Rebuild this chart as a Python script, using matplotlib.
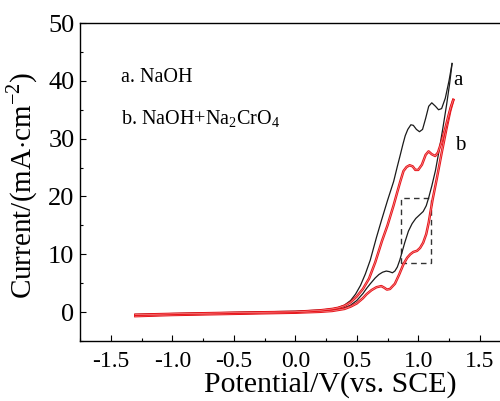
import matplotlib
matplotlib.use("Agg")
import matplotlib.pyplot as plt
from matplotlib.patches import Rectangle
from matplotlib.ticker import MultipleLocator

plt.rcParams['font.family'] = ['Liberation Serif', 'DejaVu Serif']
plt.rcParams['mathtext.fontset'] = 'custom'
plt.rcParams['mathtext.rm'] = 'Liberation Serif'
plt.rcParams['axes.unicode_minus'] = False

# Curve a (NaOH): lower branch, E ascending
a_lo_E = [-1.30, -1.0, -0.5, 0.0, 0.2, 0.3, 0.35, 0.40, 0.45, 0.50, 0.55, 0.58, 0.61,
          0.65, 0.68, 0.71, 0.74, 0.765, 0.79, 0.81, 0.83, 0.85, 0.87, 0.89, 0.92,
          0.95, 0.98, 1.01, 1.04, 1.065, 1.085, 1.11, 1.14, 1.17, 1.20, 1.23, 1.255, 1.275]
a_lo_I = [-0.7, -0.5, -0.3, -0.1, 0.1, 0.3, 0.5, 0.75, 1.2, 2.0, 3.2, 4.1, 4.9,
          5.9, 6.5, 6.9, 7.1, 7.0, 6.8, 7.1, 7.8, 9.0, 10.5, 12.0, 14.0,
          15.3, 16.2, 16.8, 17.4, 18.4, 19.8, 21.8, 24.5, 28.0, 31.8, 35.8, 39.5, 43.0]
# Curve a: upper branch, E descending
a_up_E = [1.275, 1.25, 1.22, 1.19, 1.165, 1.14, 1.11, 1.085, 1.06, 1.035, 1.01, 0.985,
          0.96, 0.94, 0.915, 0.894, 0.875, 0.854, 0.83, 0.80, 0.75, 0.70, 0.66, 0.61,
          0.57, 0.53, 0.49, 0.45, 0.40, 0.35, 0.30, 0.20, 0.0, -0.5, -1.0, -1.30]
a_up_I = [43.0, 40.0, 37.0, 35.2, 35.0, 35.6, 36.2, 35.6, 33.5, 31.6, 31.2, 31.6,
          32.3, 32.4, 31.6, 30.5, 29.0, 27.2, 25.2, 22.6, 19.3, 15.8, 12.9, 9.0,
          6.6, 4.6, 3.1, 2.0, 1.2, 0.8, 0.55, 0.35, 0.15, -0.05, -0.25, -0.4]

# Curve b (NaOH+Na2CrO4)
b_lo_E = [-1.30, -1.0, -0.5, 0.0, 0.2, 0.3, 0.40, 0.45, 0.50, 0.55, 0.58, 0.62, 0.66,
          0.70, 0.725, 0.745, 0.77, 0.81, 0.845, 0.88, 0.91, 0.935, 0.96, 0.99, 1.015,
          1.04, 1.065, 1.085, 1.10, 1.117, 1.15, 1.19, 1.23, 1.26, 1.285]
b_lo_I = [-0.7, -0.5, -0.3, -0.1, 0.05, 0.2, 0.55, 0.95, 1.5, 2.4, 3.1, 3.8, 4.3,
          4.5, 4.2, 3.9, 4.0, 4.9, 6.5, 8.3, 9.4, 10.0, 10.4, 10.6, 11.1,
          12.0, 13.5, 15.5, 17.4, 19.5, 23.0, 27.5, 31.8, 34.8, 36.7]
b_up_E = [1.285, 1.265, 1.246, 1.22, 1.19, 1.16, 1.138, 1.11, 1.084, 1.06, 1.03, 1.00,
          0.976, 0.955, 0.93, 0.905, 0.88, 0.854, 0.83, 0.80, 0.75, 0.705, 0.65, 0.60,
          0.55, 0.50, 0.45, 0.40, 0.35, 0.30, 0.20, 0.0, -0.5, -1.0, -1.30]
b_up_I = [36.7, 35.5, 34.0, 31.8, 29.5, 27.6, 27.0, 27.3, 27.8, 27.2, 25.5, 24.6,
          24.6, 25.2, 25.4, 25.1, 24.4, 22.6, 20.8, 18.5, 15.0, 12.3, 8.6, 5.8,
          4.0, 2.7, 1.7, 1.1, 0.75, 0.55, 0.3, 0.05, -0.1, -0.3, -0.45]

box_E = (0.86, 1.10)
box_I = (8.5, 19.8)

fig = plt.figure(figsize=(5.0, 4.01), dpi=100)
ax = fig.add_axes([0.16, 0.1496, 0.861, 0.793])

for E, I in ((a_lo_E, a_lo_I), (a_up_E, a_up_I)):
    ax.plot(E, I, color='#1a1a1a', lw=0.9, solid_joinstyle='round')
for E, I in ((b_lo_E, b_lo_I), (b_up_E, b_up_I)):
    ax.plot(E, I, color='#e8141a', lw=1.8, solid_joinstyle='round')
    ax.plot(E, I, color='#f5a8a8', lw=0.4, solid_joinstyle='round')

ax.add_patch(Rectangle((box_E[0], box_I[0]), box_E[1] - box_E[0], box_I[1] - box_I[0],
                       fill=False, ls=(0, (4, 3)), lw=1.0, ec='#333333'))

ax.text(1.285, 39.3, 'a', fontsize=15, va='baseline')
ax.text(1.295, 28.1, 'b', fontsize=15, va='baseline')
ax.text(-1.42, 39.8, 'a. NaOH', fontsize=14.5, va='baseline')
ax.text(-1.42, 32.4, r'b. NaOH+Na$_2$CrO$_4$', fontsize=14.5, va='baseline')

ax.set_xlim(-1.75, 1.75)
ax.set_ylim(-5, 50)
ax.set_xticks([-1.5, -1.0, -0.5, 0.0, 0.5, 1.0, 1.5])
ax.set_yticks([0, 10, 20, 30, 40, 50])
ax.xaxis.set_minor_locator(MultipleLocator(0.25))
ax.yaxis.set_minor_locator(MultipleLocator(5))
ax.tick_params(which='both', direction='in', top=False, right=False, width=0.8)
ax.tick_params(axis='x', labelsize=17, pad=7)
ax.tick_params(axis='y', labelsize=19, pad=4)
ax.tick_params(which='major', length=4.5)
ax.tick_params(which='minor', length=2.5)
for s in ax.spines.values():
    s.set_linewidth(1.0)

ax.set_xlabel('Potential/V(vs. SCE)', fontsize=21.5)
ax.set_ylabel(r'Current/(mA$\cdot$cm$^{-2}$)', fontsize=21)
ax.xaxis.set_label_coords(0.581, -0.096)
ax.yaxis.set_label_coords(-0.093, 0.489)

fig.savefig('out.png', dpi=100)
